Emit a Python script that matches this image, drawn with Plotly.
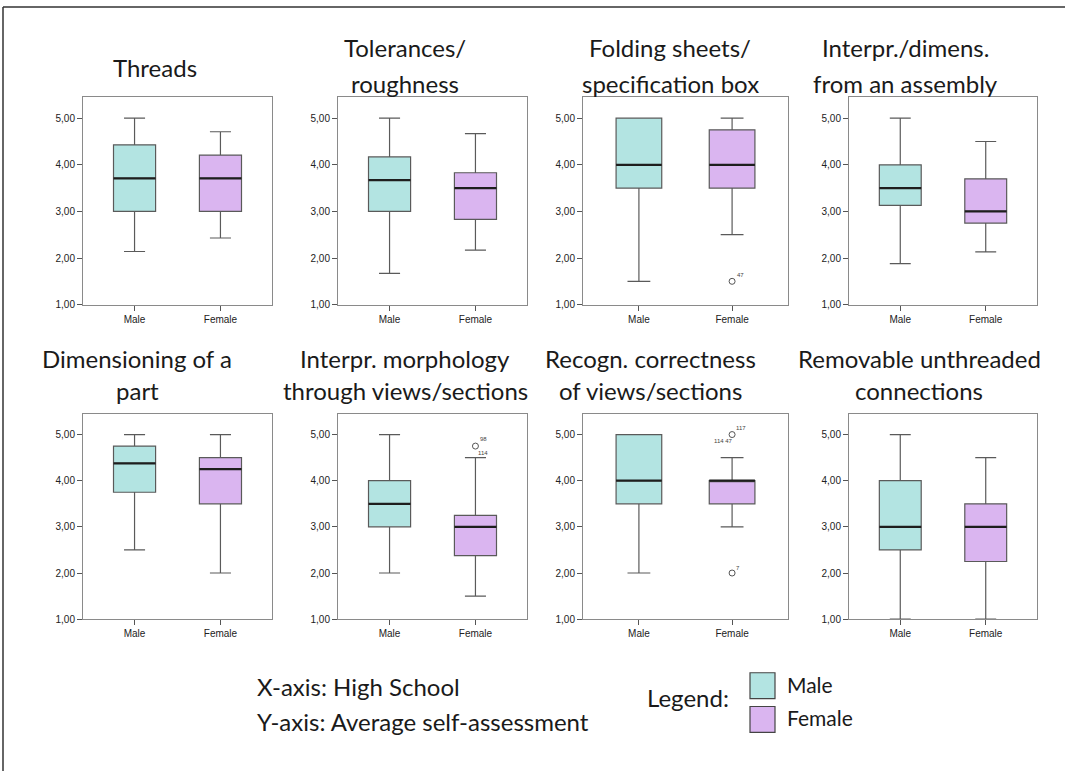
import plotly.graph_objects as go

# ---------------- data ----------------
groups = ["Male", "Female"]
panel_titles = [
    ["Threads"],
    ["Tolerances/", "roughness"],
    ["Folding sheets/", "specification box"],
    ["Interpr./dimens.", "from an assembly"],
    ["Dimensioning of a", "part"],
    ["Interpr. morphology", "through views/sections"],
    ["Recogn. correctness", "of views/sections"],
    ["Removable unthreaded", "connections"],
]
male_low = [2.14, 1.67, 1.50, 1.88, 2.50, 2.00, 2.00, 1.00]
male_q1 = [3.00, 3.00, 3.50, 3.13, 3.75, 3.00, 3.50, 2.50]
male_med = [3.71, 3.67, 4.00, 3.50, 4.375, 3.50, 4.00, 3.00]
male_q3 = [4.43, 4.17, 5.00, 4.00, 4.75, 4.00, 5.00, 4.00]
male_high = [5.00, 5.00, 5.00, 5.00, 5.00, 5.00, 5.00, 5.00]

female_low = [2.43, 2.17, 2.50, 2.13, 2.00, 1.50, 3.00, 1.00]
female_q1 = [3.00, 2.83, 3.50, 2.75, 3.50, 2.375, 3.50, 2.25]
female_med = [3.71, 3.50, 4.00, 3.00, 4.25, 3.00, 4.00, 3.00]
female_q3 = [4.21, 3.83, 4.75, 3.70, 4.50, 3.25, 4.00, 3.50]
female_high = [4.71, 4.67, 5.00, 4.50, 5.00, 4.50, 4.50, 4.50]

# outliers (all in the Female group): panel index, value
outlier_panel = [2, 5, 6, 6]
outlier_value = [1.50, 4.75, 5.00, 2.00]
# case labels of outliers: panel index, value, label
outlier_label_panel = [2, 5, 5, 6, 6, 6]
outlier_label_value = [1.50, 4.75, 4.75, 5.00, 5.00, 2.00]
outlier_label_text = ["47", "98", "114", "117", "114 47", "7"]

y_ticks = [1, 2, 3, 4, 5]

# ---------------- style / layout ----------------
W, H = 1065, 777
male_color = "#b3e4e2"
female_color = "#dab5f0"
colors = [male_color, female_color]

col_px = [(83, 272), (338, 527), (583, 788), (849, 1037)]
row_px = [(98, 307), (417, 624)]
title_cx = [155, 405, 670, 905, 137, 405, 650, 919]
title_rows_y = [(48, 84), (361, 394)]
single_line_y = 68
# label offsets (pixels) relative to the outlier circle
label_shift = [(8, 6), (8, 7), (8, -7), (9, 7), (-9, -6), (6, 5)]

box_w = 0.49


def px(x):
    return x / W


def py(y):
    return 1 - y / H


fig = go.Figure()
layout_axes = {}
annotations = []

for k in range(8):
    r, c = divmod(k, 4)
    ax = "" if k == 0 else str(k + 1)
    xa, ya = "x" + ax, "y" + ax
    stats = [
        (male_low[k], male_q1[k], male_med[k], male_q3[k], male_high[k]),
        (female_low[k], female_q1[k], female_med[k], female_q3[k], female_high[k]),
    ]
    for gi, (lo, q1, med, q3, hi) in enumerate(stats):
        fig.add_trace(go.Box(
            x=[gi], q1=[q1], median=[med], q3=[q3], lowerfence=[lo], upperfence=[hi],
            width=box_w, whiskerwidth=0.5, fillcolor=colors[gi],
            line=dict(color="#5a5a5a", width=1.2), boxpoints=False,
            xaxis=xa, yaxis=ya, showlegend=False, hoverinfo="skip",
        ))
        # darker, thicker median line
        fig.add_trace(go.Scatter(
            x=[gi - box_w / 2, gi + box_w / 2], y=[med, med], mode="lines",
            line=dict(color="#1e1e1e", width=2.2), xaxis=xa, yaxis=ya,
            showlegend=False, hoverinfo="skip",
        ))
    # outliers
    ov = [v for p, v in zip(outlier_panel, outlier_value) if p == k]
    if ov:
        fig.add_trace(go.Scatter(
            x=[1] * len(ov), y=ov, mode="markers",
            marker=dict(symbol="circle-open", size=6, color="#555", line=dict(width=1)),
            xaxis=xa, yaxis=ya, showlegend=False, hoverinfo="skip",
        ))
    for i, (p, v, t) in enumerate(zip(outlier_label_panel, outlier_label_value, outlier_label_text)):
        if p == k:
            dx, dy = label_shift[i]
            annotations.append(dict(
                x=1, y=v, xref=xa, yref=ya, text=t, showarrow=False,
                xshift=dx, yshift=dy, font=dict(size=6, color="#444", family="Liberation Sans, Arial"),
            ))

    x0, x1 = col_px[c]
    y0, y1 = row_px[r]
    tick_font = dict(size=10, color="#222", family="Liberation Sans, Arial")
    layout_axes["xaxis" + ax] = dict(
        domain=[px(x0), px(x1)], anchor=ya, range=[-0.6, 1.6],
        tickvals=[0, 1], ticktext=groups, showgrid=False, zeroline=False,
        showline=True, mirror=True, linecolor="#8a8a8a", linewidth=1,
        ticks="outside", ticklen=5, tickcolor="#555", tickfont=tick_font,
        fixedrange=True,
    )
    layout_axes["yaxis" + ax] = dict(
        domain=[py(y1), py(y0)], anchor=xa, range=[1, 5.45],
        tickvals=y_ticks, tickformat=".2f", showgrid=False, zeroline=False,
        showline=True, mirror=True, linecolor="#8a8a8a", linewidth=1,
        ticks="outside", ticklen=5, tickcolor="#555", tickfont=tick_font,
        fixedrange=True,
    )

title_font = dict(family="Lato, Carlito, Calibri, sans-serif", size=24, color="#1a1a1a")
for k, lines in enumerate(panel_titles):
    r = k // 4
    ys = [single_line_y] if len(lines) == 1 else list(title_rows_y[r])
    for line, yy in zip(lines, ys):
        annotations.append(dict(
            x=px(title_cx[k]), y=py(yy), xref="paper", yref="paper", text=line,
            showarrow=False, xanchor="center", yanchor="middle", font=title_font,
        ))

# bottom explanatory text
annotations += [
    dict(x=px(255), y=py(692), xref="paper", yref="paper", text="X-axis: High School",
         showarrow=False, xanchor="left", yanchor="middle", font=title_font),
    dict(x=px(255), y=py(727), xref="paper", yref="paper", text="Y-axis: Average self-assessment",
         showarrow=False, xanchor="left", yanchor="middle", font=title_font),
    dict(x=px(645), y=py(703), xref="paper", yref="paper", text="Legend:",
         showarrow=False, xanchor="left", yanchor="middle", font=title_font),
    dict(x=px(785), y=py(690), xref="paper", yref="paper", text=groups[0],
         showarrow=False, xanchor="left", yanchor="middle", font=dict(title_font, size=21)),
    dict(x=px(785), y=py(723), xref="paper", yref="paper", text=groups[1],
         showarrow=False, xanchor="left", yanchor="middle", font=dict(title_font, size=21)),
]

shapes = [
    # outer frame (top & left)
    dict(type="line", xref="paper", yref="paper", x0=px(3), x1=1, y0=py(7), y1=py(7),
         line=dict(color="#333", width=1.5)),
    dict(type="line", xref="paper", yref="paper", x0=px(3), x1=px(3), y0=py(7), y1=0,
         line=dict(color="#333", width=1.5)),
    # legend swatches
    dict(type="rect", xref="paper", yref="paper", x0=px(750), x1=px(775), y0=py(704), y1=py(678),
         fillcolor=male_color, line=dict(color="#444", width=1.2)),
    dict(type="rect", xref="paper", yref="paper", x0=px(750), x1=px(775), y0=py(738), y1=py(712),
         fillcolor=female_color, line=dict(color="#444", width=1.2)),
]

fig.update_layout(
    width=W, height=H, margin=dict(l=0, r=0, t=0, b=0),
    paper_bgcolor="white", plot_bgcolor="white",
    boxmode="overlay", separators=",.",
    annotations=annotations, shapes=shapes, showlegend=False,
    **layout_axes,
)

fig.write_html("out.html", config={"displayModeBar": False},
               post_script="document.body.style.margin='0';")
